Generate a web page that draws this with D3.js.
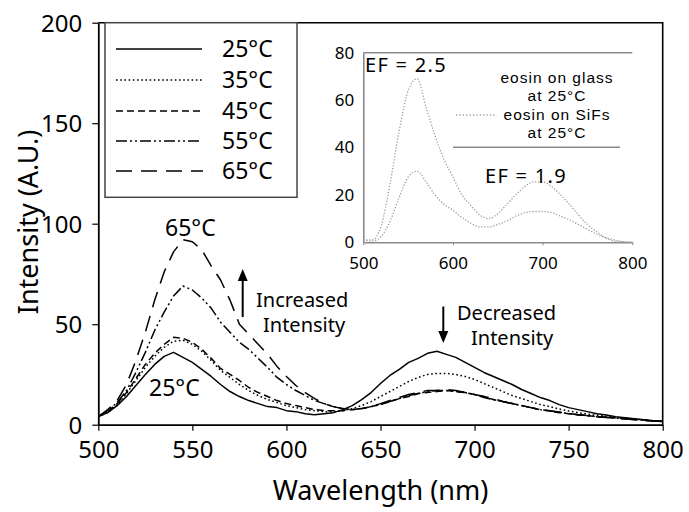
<!DOCTYPE html>
<html><head><meta charset="utf-8">
<script src="https://cdn.jsdelivr.net/npm/d3@7"></script>
<style>body{margin:0;background:#fff}svg{display:block}text{font-family:"Noto Sans",sans-serif}text.lib{font-family:"Liberation Sans",sans-serif}</style>
</head><body><svg id="c" width="689" height="512"></svg>
<script>
// ---- data ----
const wavelengths = d3.range(500, 801, 5);
const seriesNames = ["25°C","35°C","45°C","55°C","65°C"];
const s25 = [4,6,9.5,14,19.5,25,30,34,36,33.5,31,27.5,24,20,16.5,14,12,10.5,9,8.5,7,6.5,5.5,5,5.5,6,7.5,9.5,12.5,16,20.5,24.5,27.5,31,33,35.5,36.5,35,33.5,31,28.5,26,24,22,20,17.5,15.5,13.5,12,10,8.5,7.5,6.5,5.5,4.8,4,3.5,3,2.5,2,1.8];
const s35 = [4,6,10,15.5,22,28.5,34,38.5,41.5,42,40,36.5,32,27,23.5,20,17,14.5,12.5,11,9.5,8.5,7.5,7,6.5,6.5,7,8,9.5,11.5,14,16.5,19,21.5,23.5,25,25.5,25.5,25,24,22.5,20.5,18.5,16.5,14.5,13,11.5,10,9,7.8,6.8,6,5.3,4.7,4.2,3.7,3.2,2.8,2.4,2,1.8];
const s45 = [4,6.5,10.5,16,23,30,35.5,40,43.5,43,41,37.5,33,28,25,22,18.5,16,14,12,10.5,9.5,8.5,7.5,7,7,7,7.5,8,9,10,11.5,13,14,15.5,16,16.5,17,16.5,16,15,14,12.5,11.5,10.5,9.5,8.5,7.5,6.8,6,5.5,5,4.5,4,3.7,3.3,3,2.6,2.3,2,1.7];
const s55 = [4,7,11,17,26,36,47,56,64,69,67,63,58,51,46,41,37.5,33,28.5,23.5,20,17,14.5,12,10.5,9,8,7.5,8,9,10,11.5,13,14.5,15.5,16.5,17,17,16.5,16,15,13.5,12.5,11.5,10.5,9.5,8.5,7.5,6.8,6.2,5.5,5,4.5,4,3.6,3.2,2.9,2.5,2.2,1.9,1.6];
const s65 = [4,7.5,12,20,32,46,62,76,86,92,91,87,79,72,62,50,45,40,35,29,24,19.5,16,13,10.5,9,8,7.5,8,9,10.5,12,13.5,15,16,17,17,17.5,17,16,15,14,13,11.5,10.5,9.5,8.5,7.5,7,6.3,5.6,5,4.5,4,3.7,3.3,2.9,2.5,2.2,1.9,1.6];
const xTicks = [500,550,600,650,700,750,800];
const yTicks = [0,50,100,150,200];

const insetWavelengths = d3.range(500, 801, 10);
const insetSiFs  = [1,1,7,25,47,64,69,57,45,35,27.5,20,15.5,11.5,10,12,16,20,23.5,25.5,25.5,23.5,20,16,11.5,7.5,4.5,2,0.5,0.2,0];
const insetGlass = [1,0.5,2.5,9,19,27.5,30,25.5,20,16,13.5,10.5,8,6.5,6.5,7.5,9,11,12.5,13,13,12.5,11,9.5,7.5,5.5,3.5,2,1,0.3,0];
const insetXTicks = [500,600,700,800];
const insetYTicks = [0,20,40,60,80];
const insetLegend = ["eosin on glass","at 25°C","eosin on SiFs","at 25°C"];

// ---- drawing ----
const svg = d3.select("#c");
const X0=98.3, X1=662.7, Y0=424.7, Y1=22.7;
const x = d3.scaleLinear().domain([500,800]).range([X0,X1]);
const y = d3.scaleLinear().domain([0,200]).range([Y0,Y1]);

const dashes = ["none","1.6,2.6","7,4","11,3,2,3,2,3","16,9"];
const series = [s25,s35,s45,s55,s65];

// frame
svg.append("path").attr("d",`M${X0},${Y1}H${X1}V${Y0}`).attr("fill","none").attr("stroke","#000").attr("stroke-width",1.6);

// legend box
svg.append("rect").attr("x",105).attr("y",Y1).attr("width",192).attr("height",197.3-Y1)
  .attr("fill","#fff").attr("stroke","#444").attr("stroke-width",1.5);
const legY = [49,80,111,141,171];
seriesNames.forEach((n,i)=>{
  svg.append("line").attr("x1",116).attr("x2",i===4?203:202).attr("y1",legY[i]).attr("y2",legY[i])
    .attr("stroke","#000").attr("stroke-width",1.6).attr("stroke-dasharray",dashes[i]);
  svg.append("text").attr("x",222).attr("y",legY[i]+8).attr("font-size",23).text(n);
});

// curves
const line = d3.line().x((d,i)=>x(wavelengths[i])).y(d=>y(d));
series.forEach((s,i)=>{
  svg.append("path").attr("d",line(s)).attr("fill","none").attr("stroke","#000")
    .attr("stroke-width",1.5).attr("stroke-dasharray",dashes[i]).attr("stroke-linejoin","round");
});

// axes
const gx = svg.append("g").attr("transform",`translate(0,${Y0})`)
  .call(d3.axisBottom(x).tickValues(xTicks).tickSize(6).tickPadding(10).tickSizeOuter(0));
const gy = svg.append("g").attr("transform",`translate(${X0},0)`)
  .call(d3.axisLeft(y).tickValues(yTicks).tickSize(6).tickPadding(10).tickSizeOuter(0));
[gx,gy].forEach(g=>{
  g.select(".domain").attr("stroke","#000").attr("stroke-width",1.8);
  g.selectAll(".tick line").attr("stroke","#000").attr("stroke-width",1.2);
  g.selectAll(".tick text").attr("font-size",24).attr("font-family","Noto Sans").attr("fill","#000");
});
gy.selectAll(".tick text").attr("dy","0.36em");

svg.append("text").attr("x",(X0+X1)/2).attr("y",500).attr("text-anchor","middle").attr("font-size",27).text("Wavelength (nm)");
svg.append("text").attr("transform","translate(38,222) rotate(-90)").attr("text-anchor","middle").attr("font-size",27).text("Intensity (A.U.)");

// annotations
svg.append("text").attr("x",165).attr("y",236).attr("font-size",23).text("65°C");
svg.append("text").attr("x",149).attr("y",396).attr("font-size",23).text("25°C");
svg.append("text").attr("x",256).attr("y",307).attr("font-size",20).text("Increased");
svg.append("text").attr("x",263).attr("y",332).attr("font-size",20).text("Intensity");
svg.append("text").attr("x",457).attr("y",320).attr("font-size",20).text("Decreased");
svg.append("text").attr("x",471).attr("y",345).attr("font-size",20).text("Intensity");
svg.append("line").attr("x1",242.7).attr("x2",242.7).attr("y1",317).attr("y2",280).attr("stroke","#000").attr("stroke-width",2);
svg.append("path").attr("d","M237.7,281L242.7,269L247.7,281Z").attr("fill","#000");
svg.append("line").attr("x1",443.3).attr("x2",443.3).attr("y1",306.5).attr("y2",333).attr("stroke","#000").attr("stroke-width",2);
svg.append("path").attr("d","M438.3,331L443.3,343L448.3,331Z").attr("fill","#000");

// inset
const IX0=363.3, IX1=632.3, IY0=242.3, IY1=52.7;
const ix = d3.scaleLinear().domain([500,800]).range([IX0,IX1]);
const iy = d3.scaleLinear().domain([0,80]).range([IY0,IY1]);
const gray="#8a8a8a";
svg.append("line").attr("x1",IX0).attr("x2",IX1).attr("y1",iy(80)).attr("y2",iy(80)).attr("stroke",gray).attr("stroke-width",1.5);
const igx = svg.append("g").attr("transform",`translate(0,${IY0})`)
  .call(d3.axisBottom(ix).tickValues(insetXTicks).tickSize(3).tickPadding(12).tickSizeOuter(0));
const igy = svg.append("g").attr("transform",`translate(${IX0},0)`)
  .call(d3.axisLeft(iy).tickValues(insetYTicks).tickSize(0).tickPadding(9).tickSizeOuter(0));
[igx,igy].forEach(g=>{
  g.select(".domain").attr("stroke",gray).attr("stroke-width",1.6);
  g.selectAll(".tick line").attr("stroke",gray);
  g.selectAll(".tick text").attr("font-size",17).attr("font-family","Noto Sans").attr("fill","#000");
});
const iline = d3.line().x((d,i)=>ix(insetWavelengths[i])).y(d=>iy(d)).curve(d3.curveMonotoneX);
[insetSiFs,insetGlass].forEach(s=>{
  svg.append("path").attr("d",iline(s)).attr("fill","none").attr("stroke","#999")
    .attr("stroke-width",1.3).attr("stroke-dasharray","1.2,1.8");
});
svg.append("text").attr("x",365).attr("y",71.5).attr("font-size",20).attr("letter-spacing",1.3).text("EF = 2.5");
svg.append("text").attr("x",485).attr("y",183).attr("font-size",20).attr("letter-spacing",1.3).text("EF = 1.9");
const legBase = [83,101,120,138];
insetLegend.forEach((t,i)=>{
  svg.append("text").attr("class","lib").attr("x",557).attr("y",legBase[i]).attr("text-anchor","middle")
    .attr("font-size",15.5).attr("letter-spacing",1).text(t);
});
svg.append("line").attr("x1",456).attr("x2",497).attr("y1",115).attr("y2",115).attr("stroke","#999").attr("stroke-width",1.3).attr("stroke-dasharray","1.2,2.2");
svg.append("line").attr("x1",453).attr("x2",620).attr("y1",147.3).attr("y2",147.3).attr("stroke",gray).attr("stroke-width",1.4);
</script></body></html>
